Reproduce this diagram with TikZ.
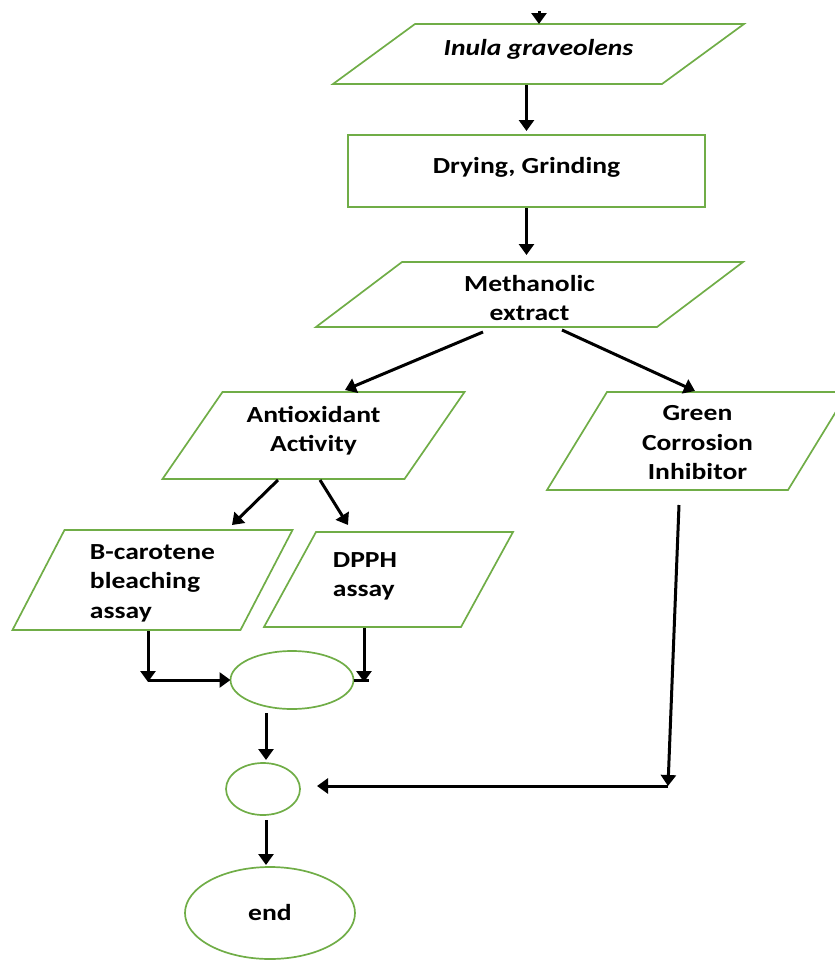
\documentclass[tikz,border=0pt]{standalone}
\usepackage{fontspec}
\setmainfont{Carlito}[FakeStretch=1.2]
\usetikzlibrary{arrows.meta,shapes.geometric}
\definecolor{Leaf}{HTML}{70AD47}
% slanted outline round a (rectangular) node
\newcommand\paraline[2]{%
  \draw[edge] ([xshift=-#2pt]#1.south west) -- ([xshift=#2pt]#1.north west)
    -- ([xshift=#2pt]#1.north east) -- ([xshift=-#2pt]#1.south east) -- cycle;}

\begin{document}
\begin{tikzpicture}[x=1pt,y=-1pt,
    font=\fontsize{23}{29.5}\selectfont\bfseries,
    every label/.style={align=center},
    edge/.style={draw=Leaf,line width=1.7pt},
    para/.style={rectangle,outer sep=0pt,inner sep=0pt},
    box/.style={rectangle,edge,outer sep=0pt},
    oval/.style={ellipse,edge,outer sep=0pt},
    arr/.style={line width=3pt,-{Triangle[width=15pt,length=11pt]}}]
  \useasboundingbox (0,0) rectangle (835,964);

  % inputs and steps
  \node[para,minimum width=329pt,minimum height=60pt,
        label={[yshift=5pt]center:\itshape Inula graveolens}]
    (inula) at (538.5,54) {};
  \node[box,minimum width=357pt,minimum height=72pt,
        label={[yshift=4pt]center:Drying, Grinding}]
    (drying) at (526.5,171) {};
  \node[para,minimum width=341pt,minimum height=65pt,
        label={[yshift=-3.5pt]center:Methanolic\\extract}]
    (meth) at (529.5,294.5) {};
  \node[para,minimum width=242pt,minimum height=87pt,
        label={[yshift=5pt]center:Antioxidant\\Activity}]
    (anti) at (313.5,435.5) {};
  \node[para,minimum width=241pt,minimum height=98pt,
        label={[yshift=-2pt]center:Green\\Corrosion\\Inhibitor}]
    (green) at (697.5,441) {};
  \node[para,minimum width=228pt,minimum height=100pt,
        label={[yshift=-3pt,align=left]center:B-carotene\\bleaching\\assay}]
    (bcar) at (152.5,580) {};
  \node[para,minimum width=197pt,minimum height=95pt,
        label={[xshift=-23.5pt,yshift=3pt,align=left]center:DPPH\\assay}]
    (dpph) at (388.5,579.5) {};
  \paraline{inula}{41}
  \paraline{meth}{43}
  \paraline{anti}{30}
  \paraline{green}{30}
  \paraline{bcar}{26}
  \paraline{dpph}{26}

  % joins
  \node[oval,minimum width=123pt,minimum height=58pt] (join1) at (292,680) {};
  \node[oval,minimum width=74pt,minimum height=52pt] (join2) at (263,789) {};
  \node[oval,minimum width=170pt,minimum height=92pt] (end) at (270,913) {end};

  \coordinate (start) at (539,11);
  \coordinate (bjoin) at (148,680);
  \coordinate (gjoin) at (668,786);

  % connectors
  \draw[arr] (start) -- (start |- inula.north);
  \draw[arr] ([yshift=-1pt]drying.north |- inula.south) -- ([yshift=4pt]drying.north);
  \draw[arr] ([yshift=-1pt]drying.south) -- ([yshift=7pt]drying.south |- meth.north);
  \draw[arr] ([xshift=-46.5pt,yshift=-5pt]meth.south) -- ([xshift=31.5pt,yshift=2pt]anti.north);
  \draw[arr] ([xshift=32.5pt,yshift=-3pt]meth.south) -- ([xshift=-2.5pt,yshift=1pt]green.north);
  \draw[arr] ([xshift=-35.5pt,yshift=-1pt]anti.south) -- ([xshift=79.5pt,yshift=5pt]bcar.north);
  \draw[arr] ([xshift=6.5pt,yshift=-1pt]anti.south) -- ([xshift=-40.5pt,yshift=7pt]dpph.north);
  \draw[arr] ([yshift=-1pt]bjoin |- bcar.south) -- ([yshift=-2pt]bjoin);
  \draw[arr] (bjoin) -- (join1.west);
  \draw[arr] ([xshift=-24.5pt,yshift=-1pt]dpph.south) -- ([xshift=-24.5pt,yshift=-2pt]dpph.south |- join1.east);
  \draw[line width=3pt] (join1.east) -- ([xshift=-19.5pt]dpph.south |- join1.east);
  \draw[arr] ([xshift=3pt,yshift=-4pt]join2.north |- join1.south) -- ([xshift=3pt,yshift=3pt]join2.north);
  \draw[arr] ([xshift=-18.5pt,yshift=-15pt]green.south) -- (gjoin);
  \draw[arr] (gjoin) -- ([xshift=17pt]gjoin -| join2.east);
  \draw[arr] ([xshift=3pt,yshift=-5pt]join2.south) -- ([xshift=-4pt,yshift=2pt]end.north);
\end{tikzpicture}
\end{document}
